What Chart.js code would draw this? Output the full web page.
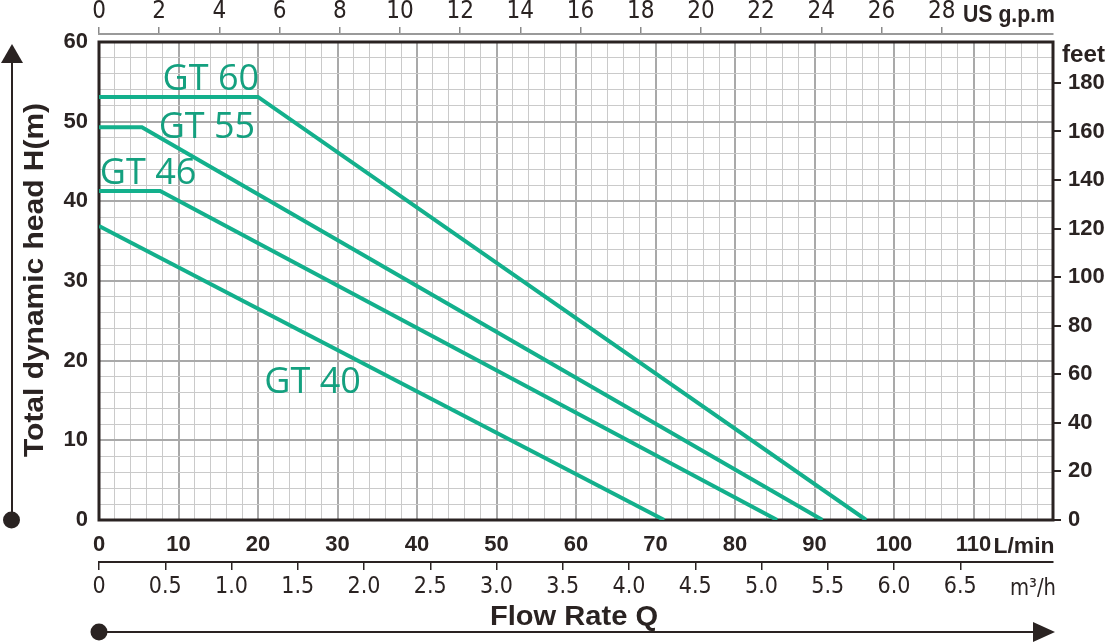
<!DOCTYPE html>
<html><head><meta charset="utf-8">
<script src="https://cdn.jsdelivr.net/npm/chart.js@4.4.1/dist/chart.umd.min.js"></script>
<style>html,body{margin:0;padding:0;background:#fff}#wrap{width:1107px;height:643px;position:relative}</style>
</head><body><div id="wrap"><canvas id="c" width="1107" height="643"></canvas></div>
<script>
// ---- data (flow in L/min, head in m) ----
const seriesNames = ['GT 60', 'GT 55', 'GT 46', 'GT 40'];
const gt60Flow = [0, 20.0, 96.5];
const gt60Head = [53.1, 53.1, 0];
const gt55Flow = [0, 5.4, 91.0];
const gt55Head = [49.3, 49.3, 0];
const gt46Flow = [0, 7.7, 85.3];
const gt46Head = [41.3, 41.3, 0];
const gt40Flow = [0, 71.1];
const gt40Head = [36.9, 0];
// label anchors (in L/min, m)
const labelFlow = [8.0, 7.5, 0.1, 20.8];
const labelHead = [54.0, 48.0, 42.2, 15.9];
// tick labels
const lminTicks = [0, 10, 20, 30, 40, 50, 60, 70, 80, 90, 100, 110];
const m3hTicks = [0, 0.5, 1.0, 1.5, 2.0, 2.5, 3.0, 3.5, 4.0, 4.5, 5.0, 5.5, 6.0, 6.5];
const gpmTicks = [0, 2, 4, 6, 8, 10, 12, 14, 16, 18, 20, 22, 24, 26, 28];
const feetTicks = [0, 20, 40, 60, 80, 100, 120, 140, 160, 180];
const headTicks = [0, 10, 20, 30, 40, 50, 60];

const FLOW_MAX = 120, HEAD_MAX = 60;
const DARK = '#2a2322';
const LINE = '#13b08c';
const LABEL = '#14a07f';
const BOLD = '"Liberation Sans", Arial, sans-serif';
const NARROW = '"Liberation Sans Narrow", "DejaVu Sans Condensed", "Liberation Sans", sans-serif';

function pts(f, h) { return f.map((v, i) => ({x: v, y: h[i]})); }
const allFlow = [gt60Flow, gt55Flow, gt46Flow, gt40Flow];
const allHead = [gt60Head, gt55Head, gt46Head, gt40Head];

function fixSize(prop, val) {
  return function (s) { s[prop] = val; s.paddingLeft = 0; s.paddingRight = 0; s.paddingTop = 0; s.paddingBottom = 0; };
}
function setTicks(list) { return function (s) { s.ticks = list.map(v => ({value: v})); }; }

function fitText(ctx, text, x, y, w, font, align, color) {
  ctx.save();
  ctx.font = font;
  ctx.fillStyle = color || DARK;
  const m = ctx.measureText(text).width;
  ctx.translate(x, y);
  ctx.scale(w / m, 1);
  ctx.textAlign = align || 'left';
  ctx.textBaseline = 'alphabetic';
  ctx.fillText(text, 0, 0);
  ctx.restore();
}

const decor = {
  id: 'decor',
  beforeDatasetsDraw(chart) {
    const {ctx, chartArea: a} = chart;
    ctx.save();
    ctx.strokeStyle = DARK; ctx.lineWidth = 3;
    ctx.strokeRect(a.left, a.top, a.right - a.left, a.bottom - a.top);
    ctx.restore();
  },
  afterDraw(chart) {
    const {ctx, chartArea: a, scales} = chart;
    const xs = scales.x, ys = scales.y;
    // curve labels
    ctx.save();
    ctx.font = '36px "Open Sans", "Noto Sans", sans-serif';
    ctx.fillStyle = LABEL; ctx.textAlign = 'left'; ctx.textBaseline = 'alphabetic';
    seriesNames.forEach((n, i) => ctx.fillText(n, xs.getPixelForValue(labelFlow[i]), ys.getPixelForValue(labelHead[i])));
    ctx.restore();
    // unit labels
    fitText(ctx, 'US g.p.m', 963, 22, 92, 'bold 24px ' + BOLD, 'left');
    fitText(ctx, 'feet', 1062, 62, 43, 'bold 24px ' + BOLD, 'left');
    const p110 = xs.getPixelForValue(110);
    fitText(ctx, 'L/min', p110 + 20, 553, 61, 'bold 22px ' + BOLD, 'left');
    fitText(ctx, 'm³/h', 1010, 595, 46, '23px ' + NARROW, 'left');
    // axis titles
    fitText(ctx, 'Flow Rate Q', 574, 625, 168, 'bold 27px ' + BOLD, 'center');
    ctx.save();
    ctx.translate(43, 280);
    ctx.rotate(-Math.PI / 2);
    fitText(ctx, 'Total dynamic head H(m)', 0, 0, 354, 'bold 27px ' + BOLD, 'center');
    ctx.restore();
    // arrows
    ctx.save();
    ctx.strokeStyle = DARK; ctx.fillStyle = DARK; ctx.lineWidth = 2;
    ctx.beginPath(); ctx.moveTo(12, a.bottom); ctx.lineTo(12, 60); ctx.stroke();
    ctx.beginPath(); ctx.moveTo(12, 44); ctx.lineTo(23, 63); ctx.lineTo(1, 63); ctx.closePath(); ctx.fill();
    ctx.beginPath(); ctx.arc(11.5, a.bottom, 8.5, 0, Math.PI * 2); ctx.fill();
    ctx.beginPath(); ctx.moveTo(a.left, 632); ctx.lineTo(1036, 632); ctx.stroke();
    ctx.beginPath(); ctx.moveTo(1055, 632); ctx.lineTo(1033, 622); ctx.lineTo(1033, 642); ctx.closePath(); ctx.fill();
    ctx.beginPath(); ctx.arc(a.left, 632, 8.5, 0, Math.PI * 2); ctx.fill();
    ctx.restore();
  }
};

const gridColor = c => (c.tick && Math.round(c.tick.value) % 10 === 0) ? '#a9a9a9' : '#cacaca';
const gridWidth = c => (c.tick && Math.round(c.tick.value) % 10 === 0) ? 2 : 1;

new Chart(document.getElementById('c'), {
  type: 'line',
  data: {
    datasets: seriesNames.map((n, i) => ({
      label: n,
      data: pts(allFlow[i], allHead[i]),
      borderColor: LINE, borderWidth: 4, pointRadius: 0, fill: false, tension: 0,
      xAxisID: 'x', yAxisID: 'y'
    }))
  },
  options: {
    responsive: false, animation: false,
    layout: {padding: {left: 0, right: 0, top: 0, bottom: 41}},
    plugins: {legend: {display: false}, tooltip: {enabled: false}},
    scales: {
      x: {
        type: 'linear', position: 'bottom', weight: 1, min: 0, max: FLOW_MAX,
        ticks: {stepSize: 2, autoSkip: false, maxRotation: 0, padding: 12, color: DARK,
          font: {family: BOLD, size: 22, weight: 'bold'},
          callback: v => lminTicks.includes(v) ? String(v) : ''},
        grid: {color: gridColor, lineWidth: gridWidth, drawTicks: false},
        border: {display: false},
        afterFit: fixSize('height', 42)
      },
      xm3: {
        type: 'linear', position: 'bottom', weight: 2, min: 0, max: FLOW_MAX * 0.06,
        afterBuildTicks: setTicks(m3hTicks),
        ticks: {autoSkip: false, maxRotation: 0, padding: 3, color: DARK,
          font: {family: NARROW, size: 23},
          callback: v => v === 0 ? '0' : v.toFixed(1)},
        grid: {drawOnChartArea: false, drawTicks: true, tickLength: 8, color: DARK, lineWidth: 1.5},
        border: {display: true, color: DARK, width: 2},
        afterFit: fixSize('height', 40)
      },
      xgap: {
        type: 'linear', position: 'top', weight: 1, min: 0, max: 1,
        ticks: {display: false}, grid: {display: false}, border: {display: false},
        afterFit: fixSize('height', 8)
      },
      xgpm: {
        type: 'linear', position: 'top', weight: 2, min: 0, max: FLOW_MAX / 3.78541,
        afterBuildTicks: setTicks(gpmTicks),
        ticks: {autoSkip: false, maxRotation: 0, padding: 1, color: DARK,
          font: {family: NARROW, size: 24}},
        grid: {drawOnChartArea: false, drawTicks: true, tickLength: 7, color: '#8a8a8a', lineWidth: 1.5},
        border: {display: true, color: '#9a9a9a', width: 2},
        afterFit: fixSize('height', 34)
      },
      y: {
        type: 'linear', position: 'left', min: 0, max: HEAD_MAX,
        ticks: {stepSize: 2, autoSkip: false, padding: 11, color: DARK,
          font: {family: BOLD, size: 22, weight: 'bold'},
          callback: v => headTicks.includes(v) ? String(v) : ''},
        grid: {color: gridColor, lineWidth: gridWidth, drawTicks: false},
        border: {display: false},
        afterFit: fixSize('width', 99)
      },
      yft: {
        type: 'linear', position: 'right', min: 0, max: HEAD_MAX * 3.28084,
        afterBuildTicks: setTicks(feetTicks),
        ticks: {autoSkip: false, padding: 7, color: DARK,
          font: {family: BOLD, size: 22, weight: 'bold'}},
        grid: {drawOnChartArea: false, drawTicks: true, tickLength: 8, color: DARK, lineWidth: 2},
        border: {display: false},
        afterFit: fixSize('width', 54)
      }
    }
  },
  plugins: [decor]
});
</script></body></html>
